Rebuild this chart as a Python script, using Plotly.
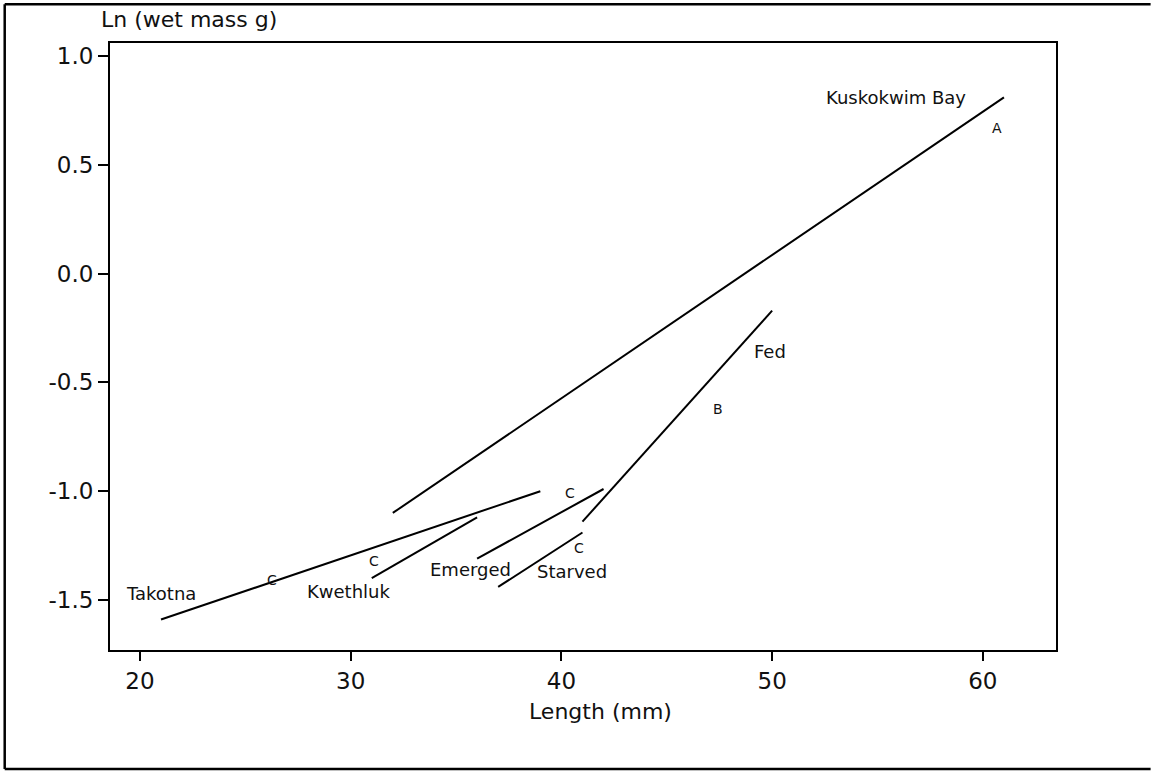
import plotly.graph_objects as go

# fitted regression segments, length (mm) vs ln(wet mass g)
groups = ["Kuskokwim Bay", "Fed", "Starved", "Emerged", "Kwethluk", "Takotna"]
len_start = [32, 41, 37, 36, 31, 21]
len_end = [61, 50, 41, 42, 36, 39]
lnm_start = [-1.10, -1.14, -1.44, -1.31, -1.40, -1.59]
lnm_end = [0.81, -0.17, -1.19, -0.99, -1.12, -1.00]

# group name labels (data coords)
name_x = [55.9, 49.9, 40.5, 35.7, 29.9, 21.0]
name_y = [0.81, -0.36, -1.37, -1.36, -1.46, -1.47]

# significance letters (data coords)
letters = ["A", "B", "C", "C", "C", "C"]
letter_x = [60.65, 47.45, 40.85, 40.41, 31.11, 26.28]
letter_y = [0.67, -0.62, -1.26, -1.01, -1.32, -1.41]

x_ticks = [20, 30, 40, 50, 60]
y_ticks = [-1.5, -1.0, -0.5, 0.0, 0.5, 1.0]
y_tick_labels = ["-1.5", "-1.0", "-0.5", "0.0", "0.5", "1.0"]

FONT = "DejaVu Sans"
TXT = "#111"

fig = go.Figure()
for i, g in enumerate(groups):
    fig.add_trace(go.Scatter(
        x=[len_start[i], len_end[i]],
        y=[lnm_start[i], lnm_end[i]],
        mode="lines",
        line=dict(color="black", width=2),
        name=g,
        showlegend=False,
    ))

annotations = []
for i, g in enumerate(groups):
    annotations.append(dict(x=name_x[i], y=name_y[i], xref="x", yref="y", text=g,
                            showarrow=False, font=dict(family=FONT, size=18, color=TXT)))
    annotations.append(dict(x=letter_x[i], y=letter_y[i], xref="x", yref="y", text=letters[i],
                            showarrow=False, font=dict(family=FONT, size=14, color=TXT)))

# axis titles
annotations.append(dict(x=0.0835, y=1.038, xref="paper", yref="paper", text="Ln (wet mass g)",
                        showarrow=False, xanchor="center", yanchor="middle",
                        font=dict(family=FONT, size=22, color=TXT)))
annotations.append(dict(x=0.518, y=-0.102, xref="paper", yref="paper", text="Length (mm)",
                        showarrow=False, xanchor="center", yanchor="middle",
                        font=dict(family=FONT, size=22, color=TXT)))

# outer frame: left, top, bottom only (right side runs off the page)
fx0, fx1, fy0, fy1 = -0.1113, 1.1, -0.196, 1.064
frame_line = dict(color="black", width=2.5)
frame = [
    dict(type="line", xref="paper", yref="paper", x0=fx0, x1=fx0, y0=fy0, y1=fy1, line=frame_line),
    dict(type="line", xref="paper", yref="paper", x0=fx0, x1=fx1, y0=fy1, y1=fy1, line=frame_line),
    dict(type="line", xref="paper", yref="paper", x0=fx0, x1=fx1, y0=fy0, y1=fy0, line=frame_line),
]

fig.update_layout(
    width=1151, height=771,
    margin=dict(l=110, r=95, t=43, b=121),
    paper_bgcolor="white", plot_bgcolor="white",
    font=dict(family=FONT, size=22, color=TXT),
    annotations=annotations,
    shapes=frame,
)
fig.update_xaxes(
    range=[18.58, 63.47], tickvals=x_ticks, showgrid=False, zeroline=False,
    showline=True, mirror=True, linecolor="black", linewidth=2,
    ticks="outside", ticklen=9, tickwidth=2, tickcolor="black",
    tickfont=dict(family=FONT, size=23, color=TXT),
)
fig.update_yaxes(
    range=[-1.73, 1.06], tickvals=y_ticks, ticktext=y_tick_labels, showgrid=False, zeroline=False,
    showline=True, mirror=True, linecolor="black", linewidth=2,
    ticks="outside", ticklen=10, tickwidth=2, tickcolor="black",
    tickfont=dict(family=FONT, size=23, color=TXT),
)

# drop the default body margin so the figure sits at the page corner
fig.write_html("out.html", config={"displayModeBar": False},
               post_script="document.body.style.margin='0';")
